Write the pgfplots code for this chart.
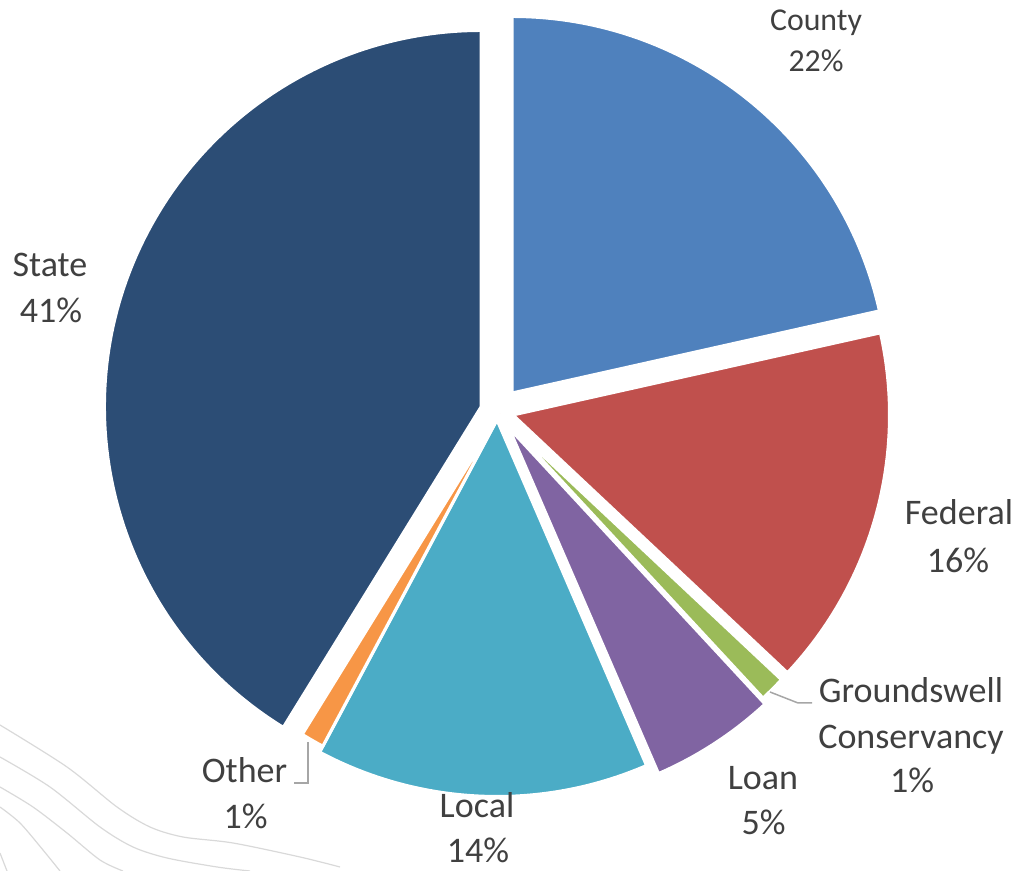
\documentclass[border=0pt]{standalone}
\usepackage{pgfplots}
\pgfplotsset{compat=1.18}
\usepackage{pgfplotstable}
\usepackage{fontspec}
\setmainfont{Carlito}

\definecolor{cCounty}{HTML}{4F81BD}
\definecolor{cFederal}{HTML}{C0504D}
\definecolor{cGround}{HTML}{9BBB59}
\definecolor{cLoan}{HTML}{8064A2}
\definecolor{cLocal}{HTML}{4BACC6}
\definecolor{cOther}{HTML}{F79646}
\definecolor{cState}{HTML}{2C4D75}
\definecolor{txt}{HTML}{404040}
\definecolor{leader}{HTML}{A6A6A6}
\definecolor{contour}{HTML}{D9D9D9}

\tikzset{lab/.style={text=txt, font=\fontsize{18}{21.6}\selectfont, anchor=base, inner sep=0pt},
         labs/.style={text=txt, font=\fontsize{15.9}{19}\selectfont, anchor=base, inner sep=0pt}}

% value = share in percent; ax, ay = apex of the (exploded) slice, in picture pixels from top-left
\pgfplotstableread{
name value ax ay col
County 21.5 512 393 cCounty
Federal 15.5 513 415 cFederal
Groundswell 1.1 507 422 cGround
Loan 5.4 509 428 cLoan
Local 14.3 497 420 cLocal
Other 1.0 500 414 cOther
State 41.2 481 407 cState
}\pietable

\begin{document}
\begin{tikzpicture}
\begin{axis}[x=0.5pt, y=0.5pt, xmin=0, xmax=1017, ymin=0, ymax=871,
  hide axis, clip=false]
% faint background contour lines
\addplot[smooth, contour, line width=0.6pt] coordinates {(0,146) (67,104) (117,64) (150,44) (183,34) (233,28) (300,14) (340,4)};
\addplot[smooth, contour, line width=0.6pt] coordinates {(0,114) (50,84) (100,44) (133,24) (167,13) (217,4) (250,0)};
\addplot[smooth, contour, line width=0.6pt] coordinates {(0,84) (33,64) (67,38) (100,11) (123,0)};
\addplot[smooth, contour, line width=0.6pt] coordinates {(0,64) (20,48) (43,21) (60,0)};
\addplot[smooth, contour, line width=0.6pt] coordinates {(0,18) (7,0)};

% pie slices, clockwise from 12 o'clock
\def\cum{0}
\pgfplotsforeachungrouped \i in {0,...,6}{%
  \pgfplotstablegetelem{\i}{value}\of\pietable \let\myval\pgfplotsretval
  \pgfplotstablegetelem{\i}{ax}\of\pietable \let\myax\pgfplotsretval
  \pgfplotstablegetelem{\i}{ay}\of\pietable \let\myay\pgfplotsretval
  \pgfplotstablegetelem{\i}{col}\of\pietable \let\mycol\pgfplotsretval
  \pgfmathsetmacro\phia{90-\cum*3.6}%
  \pgfmathsetmacro\newcum{\cum+\myval}%
  \pgfmathsetmacro\phib{90-\newcum*3.6}%
  \pgfmathsetmacro\myY{871-\myay}%
  \edef\temp{\noexpand\fill[fill=\mycol, draw=white, line width=1.5pt, line join=miter]
    (axis cs:\myax,\myY) -- ++(\phia:188.25pt) arc[start angle=\phia, end angle=\phib, radius=188.25pt] -- cycle;}%
  \temp
  \global\let\cum\newcum
}

% leader lines
\draw[leader, line width=0.75pt] (axis cs:770,179) -- (axis cs:798,168) -- (axis cs:812,168);
\draw[leader, line width=0.75pt] (axis cs:308,129) -- (axis cs:308,88) -- (axis cs:294,88);

% labels
\node[labs] at (axis cs:816,840) {County};
\node[labs] at (axis cs:816,799) {22\%};
\node[lab] at (axis cs:50,594) {State};
\node[lab] at (axis cs:51,548) {41\%};
\node[lab] at (axis cs:959,346) {Federal};
\node[lab] at (axis cs:958,298) {16\%};
\node[lab] at (axis cs:911,168) {Groundswell};
\node[lab] at (axis cs:911,122) {Conservancy};
\node[lab] at (axis cs:912,78) {1\%};
\node[lab] at (axis cs:763,81) {Loan};
\node[lab] at (axis cs:763.5,36) {5\%};
\node[lab] at (axis cs:477,53) {Local};
\node[lab] at (axis cs:478,8) {14\%};
\node[lab] at (axis cs:244.5,88) {Other};
\node[lab] at (axis cs:245.5,42) {1\%};
\end{axis}
\pgfresetboundingbox
\path (0,0) rectangle (508.5pt,435.5pt);
\end{tikzpicture}
\end{document}
